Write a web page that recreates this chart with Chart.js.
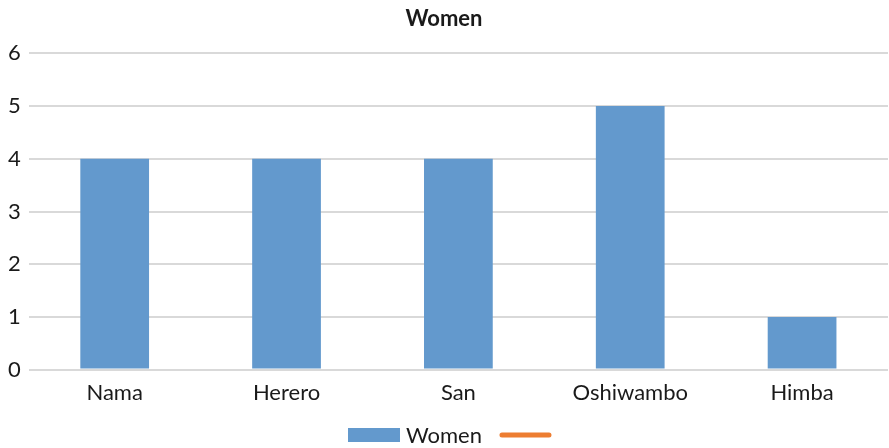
<!DOCTYPE html>
<html>
<head>
<meta charset="utf-8">
<script src="https://cdn.jsdelivr.net/npm/chart.js@4/dist/chart.umd.min.js"></script>
<style>
  html, body { margin: 0; padding: 0; background: #ffffff; }
  #wrap { width: 889px; height: 448px; }
</style>
</head>
<body>
<div id="wrap"><canvas id="chart" width="889" height="448"></canvas></div>
<script>
// Number of women interviewed per ethnic group
const categories = ['Nama', 'Herero', 'San', 'Oshiwambo', 'Himba'];
const womenValues = [4, 4, 4, 5, 1];
const yTicks = [0, 1, 2, 3, 4, 5, 6];

const FONT = 'Lato, "Open Sans", "Liberation Sans", sans-serif';
const BLUE = '#6399CD';
const ORANGE = '#ED7D31';
const TEXT = '#1a1a1a';

// Office-style legend under the axis: swatch, label, then the next entry.
const bottomLegend = {
  id: 'bottomLegend',
  afterDraw(chart) {
    const ctx = chart.ctx;
    const datasets = chart.data.datasets;
    const symW = 52, symGap = 6, entryGap = 17;
    const y = chart.height - 13;
    ctx.save();
    ctx.font = '22px ' + FONT;
    ctx.textBaseline = 'middle';
    ctx.textAlign = 'left';
    const widths = datasets.map(ds => symW + symGap + ctx.measureText(ds.label).width);
    const total = widths.reduce((a, b) => a + b, 0) + entryGap * (datasets.length - 1);
    let x = (chart.width - total) / 2 + 8;
    datasets.forEach((ds, i) => {
      if (ds.type === 'line') {
        ctx.strokeStyle = ds.borderColor;
        ctx.lineWidth = 5;
        ctx.lineCap = 'round';
        ctx.beginPath();
        ctx.moveTo(x + 3, y);
        ctx.lineTo(x + 50, y);
        ctx.stroke();
      } else {
        ctx.fillStyle = ds.backgroundColor;
        ctx.fillRect(x, y - 7, symW, 14);
      }
      ctx.fillStyle = TEXT;
      ctx.fillText(ds.label, x + symW + symGap, y + 1);
      x += widths[i] + entryGap;
    });
    ctx.restore();
  }
};

new Chart(document.getElementById('chart'), {
  type: 'bar',
  data: {
    labels: categories,
    datasets: [
      {
        label: 'Women',
        data: womenValues,
        backgroundColor: BLUE,
        borderWidth: 0,
        categoryPercentage: 1.0,
        barPercentage: 0.4
      },
      {
        type: 'line',
        label: '',
        data: [],
        borderColor: ORANGE,
        backgroundColor: ORANGE,
        borderWidth: 4
      }
    ]
  },
  options: {
    responsive: false,
    animation: false,
    layout: { padding: { left: 0, right: 1, top: 2, bottom: 32 } },
    plugins: {
      title: {
        display: true,
        text: 'Women',
        color: TEXT,
        font: { family: FONT, size: 22, weight: 'bold' },
        padding: { top: 4, bottom: 21 }
      },
      legend: { display: false },
      tooltip: { enabled: false }
    },
    scales: {
      x: {
        grid: { display: false, drawTicks: false },
        border: { display: false },
        ticks: {
          color: TEXT,
          font: { family: FONT, size: 22 },
          padding: 10
        }
      },
      y: {
        min: 0,
        max: 6,
        afterBuildTicks(axis) { axis.ticks = yTicks.map(v => ({ value: v })); },
        grid: { color: '#d9d9d9', lineWidth: 2, drawTicks: false },
        border: { display: false },
        ticks: {
          color: TEXT,
          font: { family: FONT, size: 22 },
          padding: 8
        }
      }
    }
  },
  plugins: [bottomLegend]
});
</script>
</body>
</html>
